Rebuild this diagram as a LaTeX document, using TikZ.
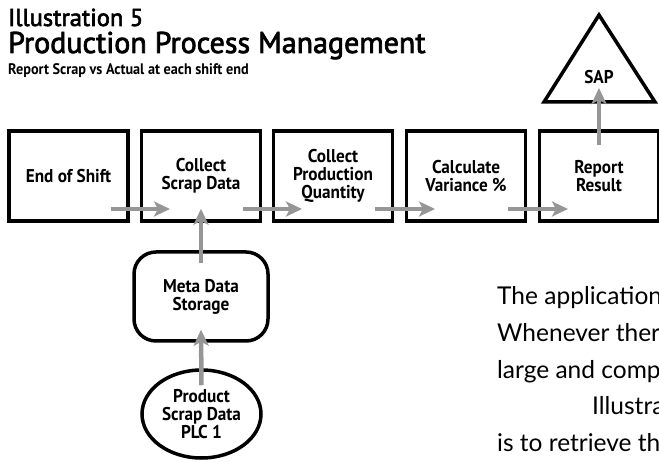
\documentclass[tikz,border=0pt]{standalone}
\usepackage{fontspec}
\setmainfont{PT Sans}
\newfontfamily\headfont[FakeBold=2.5]{PT Sans}
\newfontfamily\boxfont[FakeStretch=0.93]{PT Sans Bold}
\newfontfamily\bodyfont{Lato}
\usetikzlibrary{arrows.meta,shapes.geometric}
\definecolor{flowgray}{RGB}{150,150,150}
\tikzset{
  labelfont/.style={font=\boxfont\fontsize{18.5}{18}\selectfont},
  stepbox/.style={draw, line width=3.5pt, minimum width=119pt, minimum height=90pt,
    inner sep=0pt, align=center, labelfont},
  storebox/.style={draw, line width=3.5pt, rounded corners=22pt, minimum width=134pt,
    minimum height=89pt, inner sep=0pt, align=center, labelfont},
  plcnode/.style={draw, ellipse, line width=3.5pt, minimum width=119pt, minimum height=88pt,
    inner sep=0pt, align=center, labelfont},
  flow/.style={draw=flowgray, line width=4.5pt,
    -{Stealth[length=16pt,width=15pt,inset=4pt]}},
  bodyline/.style={anchor=base west, inner sep=0pt, font=\bodyfont\fontsize{24.5}{28}\selectfont}
}
\begin{document}
\begin{tikzpicture}[x=1pt,y=-1pt]
\useasboundingbox (0,0) rectangle (659,462);

% heading
\node[anchor=base west, inner sep=0pt, font=\headfont\fontsize{24.5}{26}\selectfont] (t1) at (8,26) {Illustration 5};
\node[anchor=base west, inner sep=0pt, font=\headfont\fontsize{30}{34}\selectfont] (t2) at (8,53) {Production Process Management};
\node[anchor=base west, inner sep=0pt, font=\boxfont\fontsize{15.3}{18}\selectfont] (t3) at (8,75) {Report Scrap vs Actual at each shift end};

% process steps
\node[stepbox] (b1) at (68.5,176) {End of Shift};
\node[stepbox] (b2) at (201,176) {Collect\\Scrap Data};
\node[stepbox] (b3) at (333,176) {Collect\\Production\\Quantity};
\node[stepbox] (b4) at (466,176) {Calculate\\Variance \%};
\node[stepbox] (b5) at (599,176) {Report\\Result};

% sources and target
\node[storebox] (meta) at (201,296.5) {Meta Data\\Storage};
\node[plcnode] (plc) at (201.5,414) {Product\\Scrap Data\\PLC 1};
\coordinate (sapA) at (599,15);
\coordinate (sapB) at (544,102);
\coordinate (sapC) at (655,102);
\draw[line width=3.5pt, line join=miter] (sapA) -- (sapB) -- (sapC) -- cycle;
\node[labelfont] (sap) at (599,77) {SAP};

% flow arrows
\draw[flow] ([xshift=42pt,yshift=-33pt]b1.center) -- ([xshift=-31pt,yshift=-33pt]b2.center);
\draw[flow] ([xshift=42pt,yshift=-33pt]b2.center) -- ([xshift=-31pt,yshift=-33pt]b3.center);
\draw[flow] ([xshift=42pt,yshift=-33pt]b3.center) -- ([xshift=-31pt,yshift=-33pt]b4.center);
\draw[flow] ([xshift=42pt,yshift=-33pt]b4.center) -- ([xshift=-31pt,yshift=-33pt]b5.center);
\draw[flow] ([yshift=-13pt]meta.north) -- ([yshift=14pt]b2.south);
\draw[flow] ([yshift=-17pt]plc.north) -- ([yshift=13pt]meta.south);
\draw[flow] ([yshift=-16pt]b5.north) -- ([yshift=14pt]sapB -| b5.center);

% running text beside the figure, running on past the right margin
\node[bodyline] (p1) at (497,305) {The application};
\node[bodyline] (p2) at (497,341.5) {Whenever there};
\node[bodyline] (p3) at (497,378) {large and comp};
\node[bodyline] (p4) at (592,414.5) {Illustra};
\node[bodyline] (p5) at (497,451) {is to retrieve th};
\end{tikzpicture}
\end{document}
